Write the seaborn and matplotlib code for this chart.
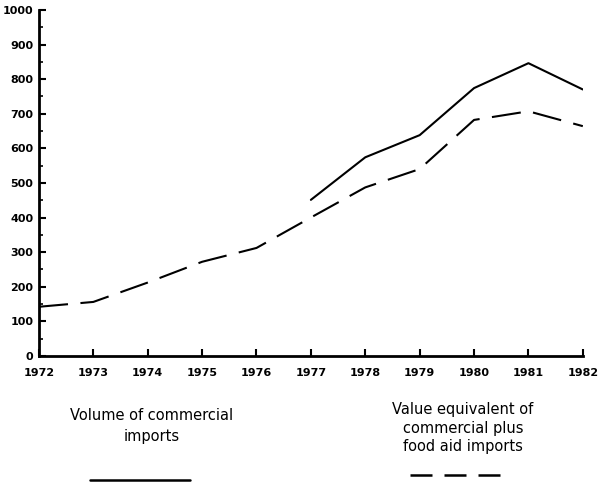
import numpy as np
import pandas as pd
import matplotlib
matplotlib.use("Agg")
import matplotlib.pyplot as plt
from matplotlib.lines import Line2D
from matplotlib.ticker import MultipleLocator
import seaborn as sns

# values
years = [1972, 1973, 1974, 1975, 1976, 1977, 1978, 1979, 1980, 1981, 1982]
value_equiv = [142, 156, 212, 272, 312, 400, 487, 540, 682, 707, 664]
volume_years = [1977, 1978, 1979, 1980, 1981, 1982]
volume_commercial = [451, 574, 638, 774, 846, 770]
y_ticks = [0, 100, 200, 300, 400, 500, 600, 700, 800, 900, 1000]

sns.set_theme(style="ticks")
plt.rcParams['font.family'] = ['DejaVu Sans']
plt.rcParams['text.color'] = 'black'
plt.rcParams['xtick.color'] = 'black'
plt.rcParams['ytick.color'] = 'black'

fig = plt.figure(figsize=(5.99, 4.95), dpi=100)
ax = fig.add_axes([0.065, 0.281, 0.908, 0.699])

df_dash = pd.DataFrame({"year": years, "value": value_equiv})
df_solid = pd.DataFrame({"year": volume_years, "value": volume_commercial})

sns.lineplot(data=df_solid, x="year", y="value", ax=ax, color="black", lw=1.5)
sns.lineplot(data=df_dash, x="year", y="value", ax=ax, color="black", lw=1.5)
ax.lines[-1].set_dashes((14, 6))

ax.set_xlim(1972, 1982)
ax.set_ylim(0, 1000)
ax.set_xticks(years)
ax.set_xticklabels([str(y) for y in years], fontsize=8, fontweight="bold")
ax.set_yticks(y_ticks)
ax.set_yticklabels([str(v) for v in y_ticks], fontsize=8, fontweight="bold")
ax.yaxis.set_minor_locator(MultipleLocator(50))
ax.tick_params(axis="x", direction="in", length=5, width=1.5, pad=9)
ax.tick_params(axis="y", which="major", direction="in", length=5, width=1.5, pad=4)
ax.tick_params(axis="y", which="minor", direction="in", length=3, width=1.2)
ax.set_xlabel("")
ax.set_ylabel("")
sns.despine(ax=ax)
for s in ["left", "bottom"]:
    ax.spines[s].set_linewidth(2)
    ax.spines[s].set_color("black")

# legend block below the chart
fig.text(0.253, 1 - 426 / 495, "Volume of commercial\nimports", ha="center",
         va="center", fontsize=10.5, linespacing=1.5)
fig.add_artist(Line2D([90 / 599, 190 / 599], [1 - 480 / 495] * 2,
                      color="black", lw=1.8))
fig.text(0.773, 1 - 428 / 495, "Value equivalent of\ncommercial plus\nfood aid imports",
         ha="center", va="center", fontsize=10.5, linespacing=1.3)
fig.add_artist(Line2D([410 / 599, 500 / 599], [1 - 475 / 495] * 2,
                      color="black", lw=1.8, dashes=(8.8, 4.8)))

fig.savefig("out.png", dpi=100, facecolor="white")
